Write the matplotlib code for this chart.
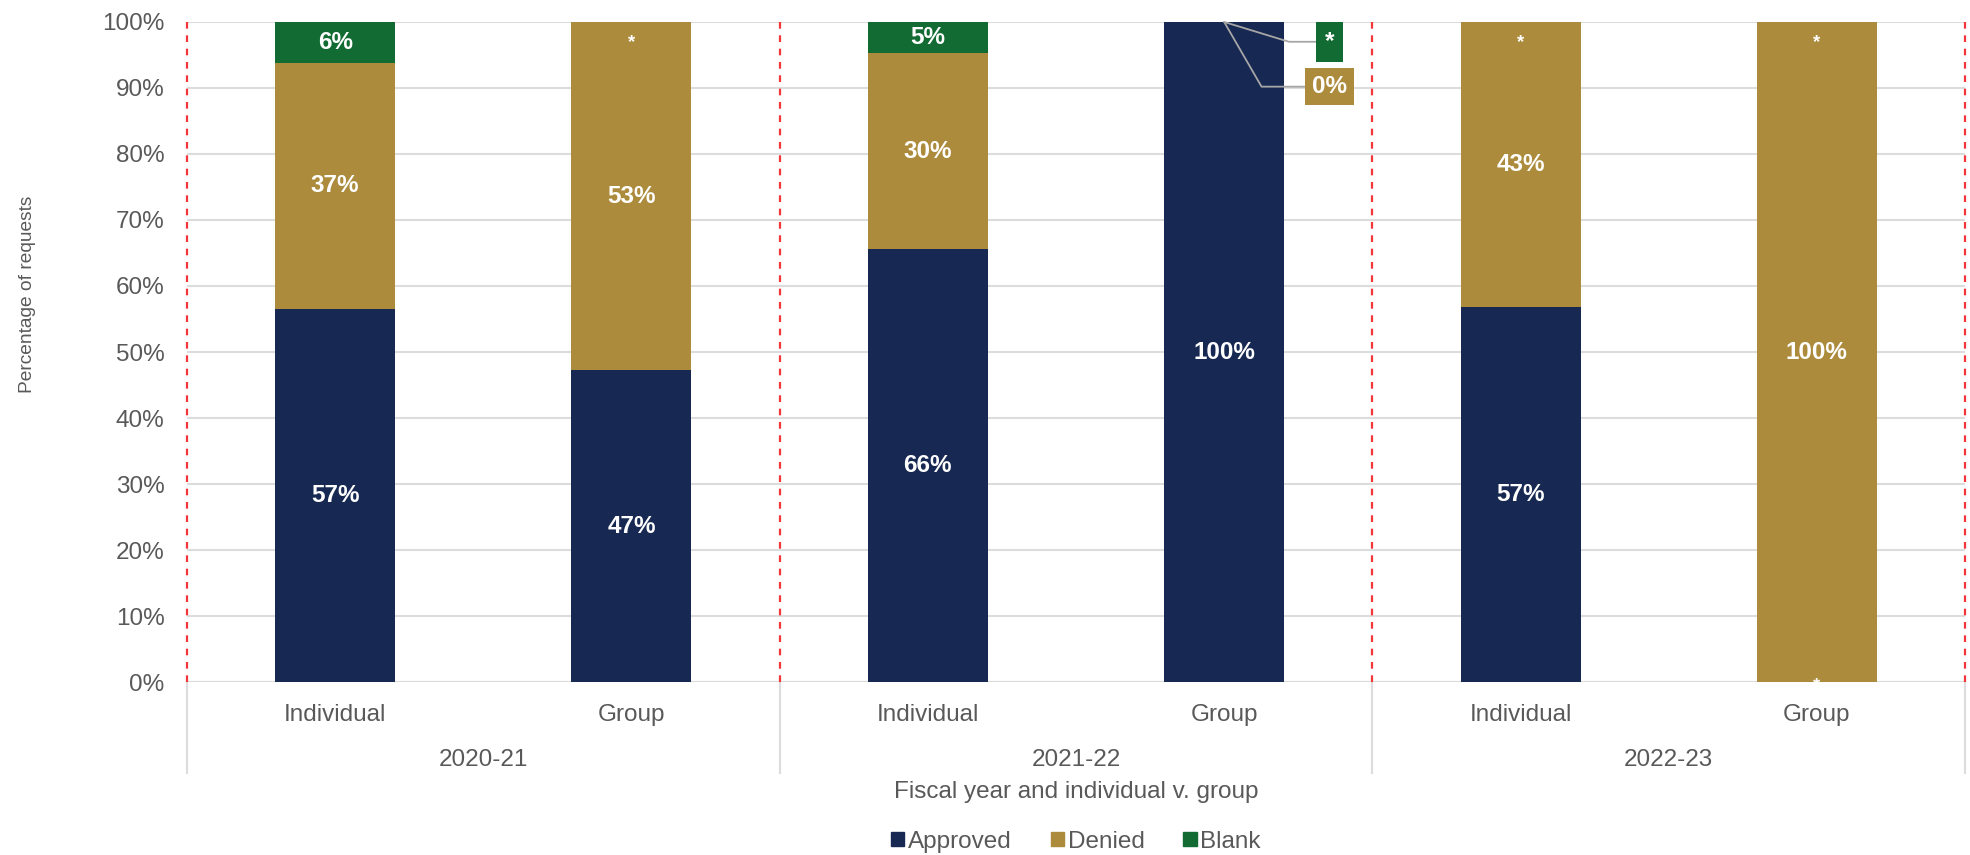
import numpy as np
import matplotlib
matplotlib.use("Agg")
import matplotlib.pyplot as plt
from matplotlib.patches import Patch
from matplotlib.transforms import blended_transform_factory

# data
years = ["2020-21", "2021-22", "2022-23"]
kinds = ["Individual", "Group"]
approved = [56.5, 47.2, 65.6, 100.0, 56.8, 0.0]
denied = [37.3, 52.8, 29.7, 0.0, 43.2, 100.0]
blank = [6.2, 0.0, 4.7, 0.0, 0.0, 0.0]
approved_labels = ["57%", "47%", "66%", "100%", "57%", "*"]
denied_labels = ["37%", "53%", "30%", "0%", "43%", "100%"]
blank_labels = ["6%", "*", "5%", "*", "*", "*"]
series_names = ["Approved", "Denied", "Blank"]
colors = ["#172952", "#ad8b3c", "#136b34"]
callout_bar = 3  # 2021-22 group: zero segments shown as callouts

plt.rcParams["font.family"] = ["Liberation Sans", "DejaVu Sans"]
FS = 17.5
GREY = "#595959"

fig = plt.figure(figsize=(19.7, 8.55), dpi=100)
ax = fig.add_axes([0.0949, 0.2023, 0.9026, 0.772])

x = np.arange(len(approved))
w = 0.405
bottoms = np.zeros(len(x))
segs = [approved, denied, blank]
labs = [approved_labels, denied_labels, blank_labels]
for vals, lab, col in zip(segs, labs, colors):
    vals = np.array(vals)
    ax.bar(x, vals, w, bottom=bottoms, color=col, zorder=2)
    for i in range(len(x)):
        if i == callout_bar and vals[i] == 0:
            continue
        if vals[i] > 0:
            ax.text(x[i], bottoms[i] + vals[i] / 2, lab[i], ha="center", va="center",
                    color="white", fontsize=FS, fontweight="bold", zorder=4)
        else:
            # zero-height segment: small star inside the bar edge
            off = -18 if bottoms[i] >= 50 else -6
            ax.annotate(lab[i], (x[i], bottoms[i]), xytext=(0, off), textcoords="offset points",
                        ha="center", va="baseline", color="white", fontsize=FS - 4,
                        fontweight="bold", zorder=4)
    bottoms = bottoms + vals

# callouts for the zero segments of the 2021-22 group bar
i = callout_bar
ax.annotate(blank_labels[i], (x[i], 100), xytext=(x[i] + 0.356, 97.0),
            ha="center", va="center", color="white", fontsize=FS, fontweight="bold",
            bbox=dict(boxstyle="square,pad=0.35", fc=colors[2], ec="none"),
            arrowprops=dict(arrowstyle="-", color="#a6a6a6", lw=1.3, shrinkA=0, shrinkB=0,
                            connectionstyle="angle,angleA=0,angleB=-17,rad=0"), zorder=5)
ax.annotate(denied_labels[i], (x[i], 100), xytext=(x[i] + 0.356, 90.2),
            ha="center", va="center", color="white", fontsize=FS, fontweight="bold",
            bbox=dict(boxstyle="square,pad=0.3", fc=colors[1], ec="none"),
            arrowprops=dict(arrowstyle="-", color="#a6a6a6", lw=1.3, shrinkA=0, shrinkB=0,
                            connectionstyle="angle,angleA=0,angleB=-60,rad=0"), zorder=5)

ax.set_xlim(-0.5, len(x) - 0.5)
ax.set_ylim(0, 100)
ax.set_yticks(np.arange(0, 101, 10))
ax.set_yticklabels([f"{v}%" for v in range(0, 101, 10)])
ax.tick_params(axis="y", length=0, labelsize=FS, labelcolor=GREY, pad=16)
ax.set_xticks([])
ax.grid(axis="y", color="#dcdcdc", lw=1.5, zorder=0)
for s in ax.spines.values():
    s.set_visible(False)
ax.axhline(0, color="#dcdcdc", lw=1.5, zorder=1)

# red dashed year dividers
for b in np.arange(-0.5, len(x), 2):
    ax.plot([b, b], [0, 100], color="#f4363b", lw=1.6, ls=(0, (3, 3)), zorder=3,
            clip_on=False)

# two-level category axis
tr = blended_transform_factory(ax.transData, ax.transAxes)
for j in range(len(x)):
    ax.text(x[j], -0.05, kinds[j % 2], transform=tr, ha="center", va="center",
            fontsize=FS, color=GREY)
for k, yr in enumerate(years):
    ax.text(2 * k + 0.5, -0.118, yr, transform=tr, ha="center", va="center",
            fontsize=FS, color=GREY)
for b in np.arange(-0.5, len(x), 2):
    ax.plot([b, b], [0, -0.138], transform=tr, color="#dcdcdc", lw=1.5, clip_on=False)

ax.text(0.5, -0.167, "Fiscal year and individual v. group", transform=ax.transAxes,
        ha="center", va="center", fontsize=FS, color=GREY)
fig.text(0.014, 0.656, "Percentage of requests", rotation=90,
         ha="center", va="center", fontsize=13.8, color=GREY)

handles = [Patch(color=c, label=n) for c, n in zip(colors, series_names)]
ax.legend(handles=handles, loc="center", bbox_to_anchor=(0.5, -0.242), ncol=3,
          frameon=False, fontsize=FS, handlelength=0.55, handleheight=0.55,
          handletextpad=0.15, columnspacing=1.6, labelcolor=GREY)

fig.savefig("out.png", dpi=100)
